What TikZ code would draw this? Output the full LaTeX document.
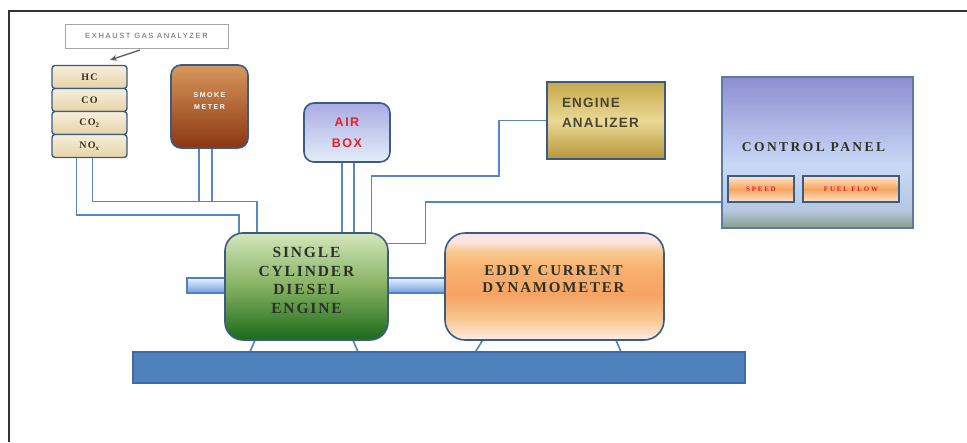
\documentclass[tikz,border=0pt]{standalone}
\usepackage{fontspec}
\setmainfont{Liberation Serif}
\setsansfont{Liberation Sans}
\usetikzlibrary{backgrounds,arrows.meta}

\definecolor{pipeblue}{HTML}{4F81BD}
\definecolor{wireblue}{HTML}{5886C2}
\definecolor{boxedge}{HTML}{3B5B87}
\definecolor{gastop}{HTML}{F7EFDC}
\definecolor{gasbot}{HTML}{E6D4A6}
\definecolor{gastext}{HTML}{3A3020}
\definecolor{labelgray}{HTML}{5E5E5E}
\definecolor{smoketop}{HTML}{D8985C}
\definecolor{smokebot}{HTML}{8A3610}
\definecolor{airtop}{HTML}{A9ABE3}
\definecolor{airbot}{HTML}{E3EEF9}
\definecolor{redtext}{HTML}{E3202A}
\definecolor{antop}{HTML}{C7A849}
\definecolor{anmid}{HTML}{EAD995}
\definecolor{anbot}{HTML}{B8963A}
\definecolor{antext}{HTML}{4A4636}
\definecolor{ctrltop}{HTML}{8D8ECF}
\definecolor{ctrllight}{HTML}{C9D8F7}
\definecolor{ctrlmid}{HTML}{B5C8E0}
\definecolor{ctrlbot}{HTML}{8A9F8C}
\definecolor{ctrledge}{HTML}{5B7AA6}
\definecolor{spdtop}{HTML}{FDE6CC}
\definecolor{spdmid}{HTML}{F7A55E}
\definecolor{spdbot}{HTML}{FDE3CF}
\definecolor{engtop}{HTML}{D3E6BC}
\definecolor{engmid}{HTML}{84B060}
\definecolor{engbot}{HTML}{1A6A1A}
\definecolor{darktext}{HTML}{2B3328}
\definecolor{dy1}{HTML}{FDEEE8}
\definecolor{dy2}{HTML}{FCE0C8}
\definecolor{dy3}{HTML}{F9C690}
\definecolor{dy4}{HTML}{F5A464}
\definecolor{dy5}{HTML}{F7B070}
\definecolor{dy6}{HTML}{F9C88C}
\definecolor{dy7}{HTML}{FBE4E2}
\definecolor{shafttop}{HTML}{EAF2FF}
\definecolor{shaftbot}{HTML}{6F9DE0}
\definecolor{baseedge}{HTML}{3E6BA3}
\definecolor{framecol}{HTML}{333333}

\pgfdeclareverticalshading{ctrlshade}{100bp}{color(0bp)=(ctrlbot); color(25bp)=(ctrlbot); color(31bp)=(ctrlmid); color(46bp)=(ctrllight); color(75bp)=(ctrltop); color(100bp)=(ctrltop)}
\pgfdeclareverticalshading{dynoshade}{100bp}{color(0bp)=(dy1); color(25bp)=(dy1); color(28bp)=(dy2); color(35bp)=(dy3); color(46bp)=(dy4); color(58bp)=(dy5); color(66bp)=(dy6); color(71bp)=(dy7); color(100bp)=(dy7)}

\pgfdeclarelayer{bottom}
\pgfsetlayers{bottom,background,main}

\tikzset{
  every node/.style={inner sep=0pt, outer sep=0pt},
  pipe/.style={draw=wireblue, line width=1.7pt},
  wire/.style={draw=wireblue, line width=1.5pt},
  leg/.style={draw=pipeblue, line width=1.6pt},
  labelbox/.style={draw=gray!70, line width=0.8pt, fill=white, minimum width=163pt, minimum height=24pt,
    font=\sffamily\fontsize{7.5}{8}\selectfont\addfontfeature{LetterSpace=22}, text=labelgray},
  gasbox/.style={draw=boxedge, line width=1.4pt, rounded corners=3pt, minimum width=75pt, minimum height=23pt,
    top color=gastop, bottom color=gasbot,
    font=\bfseries\fontsize{10}{11}\selectfont\addfontfeature{LetterSpace=12}, text=gastext},
  smokebox/.style={draw=boxedge, line width=1.6pt, rounded corners=10pt, minimum width=77pt, minimum height=83pt,
    top color=smoketop, bottom color=smokebot},
  smoketext/.style={align=center, text=white, font=\sffamily\bfseries\fontsize{7}{11.5}\selectfont\addfontfeature{LetterSpace=22}},
  airbox/.style={draw=boxedge, line width=1.6pt, rounded corners=10pt, minimum width=86pt, minimum height=59pt,
    top color=airtop, bottom color=airbot, align=center, text=redtext,
    font=\sffamily\bfseries\fontsize{12.5}{21}\selectfont\addfontfeature{LetterSpace=12}},
  anbox/.style={draw=boxedge, line width=2pt, minimum width=118pt, minimum height=77pt,
    top color=antop, bottom color=anbot, middle color=anmid},
  antextst/.style={align=left, text=antext, font=\sffamily\bfseries\fontsize{13.5}{20}\selectfont\addfontfeature{LetterSpace=9}},
  ctrlbox/.style={draw=ctrledge, line width=1.6pt, minimum width=191pt, minimum height=151pt, shading=ctrlshade},
  ctrltext/.style={text=darktext, font=\bfseries\fontsize{13.5}{16}\selectfont\addfontfeature{LetterSpace=18}},
  spdbox/.style={draw=boxedge, line width=1.6pt, minimum height=26pt,
    top color=spdtop, bottom color=spdbot, middle color=spdmid, text=redtext,
    font=\bfseries\fontsize{7}{8}\selectfont\addfontfeature{LetterSpace=25}},
  engbox/.style={draw=boxedge, line width=1.6pt, rounded corners=18pt, minimum width=163pt, minimum height=107pt,
    top color=engtop, bottom color=engbot, middle color=engmid},
  engtext/.style={align=center, text=darktext, font=\bfseries\fontsize{15.5}{18.5}\selectfont\addfontfeature{LetterSpace=12}},
  dynobox/.style={draw=boxedge, line width=1.6pt, rounded corners=20pt, minimum width=219pt, minimum height=107pt, shading=dynoshade},
  dynotext/.style={align=center, text=darktext, font=\bfseries\fontsize{15}{17}\selectfont\addfontfeature{LetterSpace=12}},
  shaftbox/.style={draw=pipeblue, line width=1.2pt, minimum width=258pt, minimum height=15pt,
    top color=shafttop, bottom color=shaftbot},
  basebox/.style={draw=baseedge, line width=1.2pt, fill=pipeblue, minimum width=612pt, minimum height=31pt},
  frameline/.style={draw=framecol, line width=1.5pt},
  arrowline/.style={draw=gray!75!black, line width=1.3pt, -{Stealth[length=7pt,width=6pt]}}
}

\begin{document}
\begin{tikzpicture}[x=1pt, y=-1pt]
\useasboundingbox (0,0) rectangle (967,442);
\begin{pgfonlayer}{bottom}
\fill[white] (0,0) rectangle (967,442);
\end{pgfonlayer}

% frame
\draw[frameline] (967,11) -- (9,11) -- (9,442);

% exhaust gas analyzer
\node[labelbox] (gaslabel) at (146.5,36) {EXHAUST GAS ANALYZER};
\node[gasbox] (hc)  at (89.5,77)  {HC};
\node[gasbox] (co)  at (89.5,100) {CO};
\node[gasbox] (co2) at (89.5,123) {CO\textsubscript{2}};
\node[gasbox] (nox) at (89.5,146) {NO\textsubscript{x}};
\draw[arrowline] ([xshift=-6.5pt,yshift=-2pt]gaslabel.south) -- ([xshift=20.5pt,yshift=5.5pt]hc.north);

% smoke meter
\node[smokebox] (smoke) at (209.5,106.5) {};
\node[smoketext] (smoketxt) at ([yshift=5.5pt]smoke.center) {SMOKE\\METER};

% air box
\node[airbox] (airbox) at (347,132.5) {AIR\\BOX};

% engine analyzer
\node[anbox] (analyzer) at (606,120.5) {};
\node[antextst, anchor=west] (antxt) at ([xshift=15pt,yshift=7.5pt]analyzer.west) {ENGINE\\ANALIZER};

% control panel
\node[ctrlbox] (control) at (817.5,152.5) {};
\node[ctrltext] (ctrltxt) at ([xshift=-4pt,yshift=5.5pt]control.center) {CONTROL PANEL};
\node[spdbox, minimum width=66pt] (speed) at (761,189) {SPEED};
\node[spdbox, minimum width=96pt] (fuel) at (851,189) {FUEL FLOW};

% shaft, engine, dynamometer, base
\node[shaftbox] (shaft) at (316,285.5) {};
\node[engbox] (engine) at (306.5,286.5) {};
\node[engtext] (engtxt) at ([yshift=6pt]engine.center) {SINGLE\\CYLINDER\\DIESEL\\ENGINE};
\node[dynobox] (dyno) at (554.5,286.5) {};
\node[dynotext] (dynotxt) at ([xshift=-1pt,yshift=7pt]dyno.center) {EDDY CURRENT\\DYNAMOMETER};
\node[basebox] (base) at (439,367.5) {};

\coordinate (kA) at (499,176);
\coordinate (kB) at (425.5,243.5);

\begin{scope}[on background layer]
  % gas analyzer pipes
  \draw[pipe] ([xshift=3pt]nox.south) |- ([xshift=-49.5pt,yshift=31.5pt]engine.north) -- ([xshift=-49.5pt,yshift=-4pt]engine.north);
  \draw[pipe] ([xshift=-13pt]nox.south) |- ([xshift=-67.5pt,yshift=18pt]engine.north) -- ([xshift=-67.5pt,yshift=-4pt]engine.north);
  % smoke meter pipes
  \draw[pipe] ([xshift=-10.5pt]smoke.south) -- ([xshift=-107.5pt,yshift=31.5pt]engine.north);
  \draw[pipe] ([xshift=2.5pt]smoke.south) -- ([xshift=-94.5pt,yshift=31.5pt]engine.north);
  % air box pipes
  \draw[pipe] ([xshift=-5pt]airbox.south) -- ([xshift=35.5pt,yshift=-4pt]engine.north);
  \draw[pipe] ([xshift=7pt]airbox.south) -- ([xshift=47.5pt,yshift=-4pt]engine.north);
  % engine analyzer wire
  \draw[wire] ([xshift=65pt,yshift=-10pt]engine.north) |- (kA) |- (analyzer.west);
  % control panel wire
  \draw[wire] ([yshift=-49.5pt]control.west) -| (kB) -- ([xshift=-4pt,yshift=43pt]engine.east);
  % legs
  \draw[leg] ([xshift=-50.5pt,yshift=2pt]engine.south) -- ([xshift=-190pt,yshift=-2pt]base.north);
  \draw[leg] ([xshift=45.5pt,yshift=2pt]engine.south) -- ([xshift=-80pt,yshift=-2pt]base.north);
  \draw[leg] ([xshift=-70.5pt,yshift=2pt]dyno.south) -- ([xshift=35pt,yshift=-2pt]base.north);
  \draw[leg] ([xshift=60.5pt,yshift=2pt]dyno.south) -- ([xshift=183pt,yshift=-2pt]base.north);
\end{scope}
\end{tikzpicture}
\end{document}
